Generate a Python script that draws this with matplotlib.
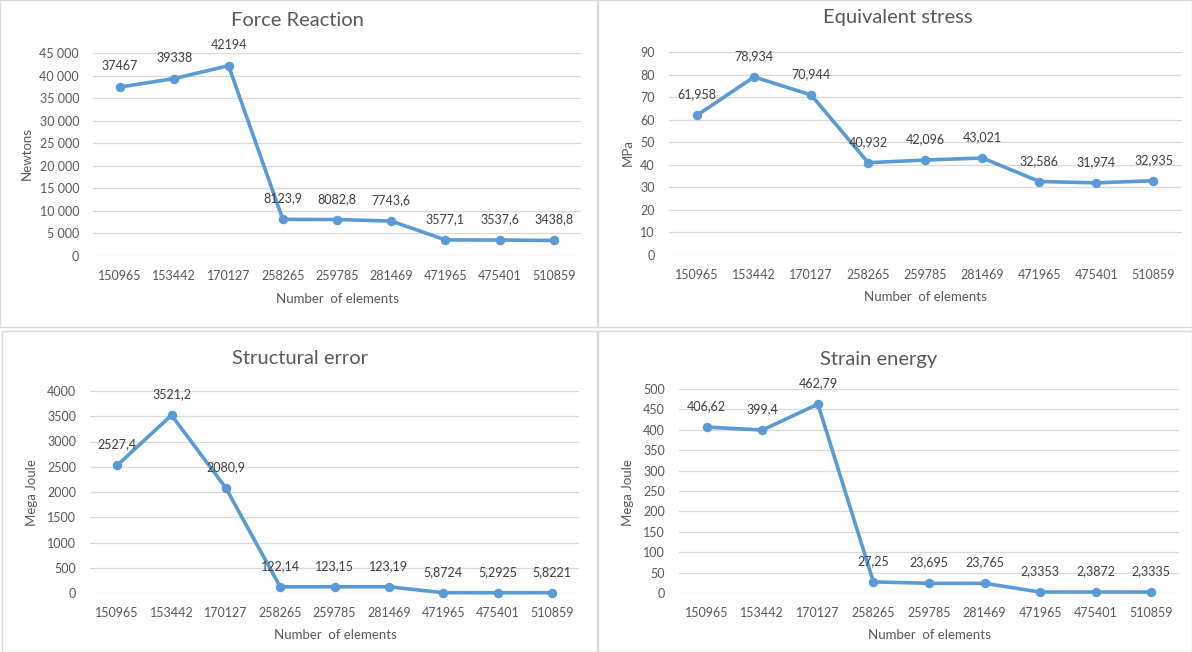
import matplotlib
matplotlib.use("Agg")
import matplotlib.pyplot as plt
from matplotlib.patches import Rectangle
from matplotlib.ticker import FuncFormatter, MultipleLocator

plt.rcParams['font.family'] = ['Lato', 'DejaVu Sans']

# Mesh sizes (category axis shared by all four charts)
elements = ["150965", "153442", "170127", "258265", "259785",
            "281469", "471965", "475401", "510859"]

force_reaction = [37467, 39338, 42194, 8123.9, 8082.8, 7743.6, 3577.1, 3537.6, 3438.8]
equivalent_stress = [61.958, 78.934, 70.944, 40.932, 42.096, 43.021, 32.586, 31.974, 32.935]
structural_error = [2527.4, 3521.2, 2080.9, 122.14, 123.15, 123.19, 5.8724, 5.2925, 5.8221]
strain_energy = [406.62, 399.4, 462.79, 27.25, 23.695, 23.765, 2.3353, 2.3872, 2.3335]

W, H = 1192, 652
LINE = "#5B9BD5"
GRID = "#D9D9D9"
AXTXT = "#595959"
LBLTXT = "#404040"

fig = plt.figure(figsize=(W / 100, H / 100), dpi=100)
fig.patch.set_facecolor("white")


def rect(x0, y_top, x1, y_bot):
    return [x0 / W, 1 - y_bot / H, (x1 - x0) / W, (y_bot - y_top) / H]


def fx(x):
    return x / W


def fy(y):
    return 1 - y / H


def space_thousands(v, _):
    return f"{int(v):,}".replace(",", " ")


def plain(v, _):
    return f"{int(v)}"


def decimal_comma(v):
    return f"{v:g}".replace(".", ",")


# chart borders
for x0, y0, x1, y1 in [(0, 0, 597, 327), (598, 0, 1192, 327),
                       (2, 331, 597, 652), (598, 331, 1192, 652)]:
    fig.patches.append(Rectangle((fx(x0), fy(y1)), fx(x1 - x0), (y1 - y0) / H,
                                 transform=fig.transFigure, fill=False,
                                 edgecolor=GRID, linewidth=1.0))

panels = [
    dict(values=force_reaction, title="Force Reaction", ylabel="Newtons",
         box=(93, 53, 581, 256), ymax=45000, step=5000, fmt=space_thousands,
         title_xy=(297, 20), xlabel_xy=(337, 299), ylabel_xy=(27, 154)),
    dict(values=equivalent_stress, title="Equivalent stress", ylabel="MPa",
         box=(668.5, 52, 1182, 255), ymax=90, step=10, fmt=plain,
         title_xy=(898, 18), xlabel_xy=(925, 297), ylabel_xy=(628, 153)),
    dict(values=structural_error, title="Structural error", ylabel="Mega Joule",
         box=(90, 391, 579, 593), ymax=4000, step=500, fmt=plain,
         title_xy=(300, 358), xlabel_xy=(335, 635), ylabel_xy=(32, 493)),
    dict(values=strain_energy, title="Strain energy", ylabel="Mega Joule",
         box=(679, 389, 1179, 593), ymax=500, step=50, fmt=plain,
         title_xy=(879, 359), xlabel_xy=(929, 635), ylabel_xy=(628, 493)),
]

for p in panels:
    ax = fig.add_axes(rect(*p["box"]))
    xs = range(len(elements))
    ax.plot(xs, p["values"], color=LINE, linewidth=2.6, marker="o",
            markersize=5.8, solid_capstyle="round", solid_joinstyle="round",
            zorder=3, clip_on=False)
    for x, v in zip(xs, p["values"]):
        ax.annotate(decimal_comma(v), (x, v), xytext=(0, 15),
                    textcoords="offset points", ha="center", va="center",
                    fontsize=9, color=LBLTXT, zorder=4)
    ax.set_xlim(-0.5, len(elements) - 0.5)
    ax.set_ylim(0, p["ymax"])
    ax.yaxis.set_major_locator(MultipleLocator(p["step"]))
    ax.yaxis.set_major_formatter(FuncFormatter(p["fmt"]))
    ax.set_xticks(list(xs))
    ax.set_xticklabels(elements)
    ax.grid(axis="y", color=GRID, linewidth=0.9)
    ax.set_axisbelow(True)
    for s in ax.spines.values():
        s.set_visible(False)
    ax.tick_params(axis="both", length=0, labelsize=9, labelcolor=AXTXT)
    ax.tick_params(axis="y", pad=10)
    ax.tick_params(axis="x", pad=10)

    tx, ty = p["title_xy"]
    fig.text(fx(tx), fy(ty), p["title"], ha="center", va="center",
             fontsize=14.5, color=AXTXT)
    lx, ly = p["xlabel_xy"]
    fig.text(fx(lx), fy(ly), "Number  of elements", ha="center", va="center",
             fontsize=9.5, color=AXTXT)
    yx, yy = p["ylabel_xy"]
    fig.text(fx(yx), fy(yy), p["ylabel"], ha="center", va="center",
             rotation=90, fontsize=9.5, color=AXTXT)

fig.savefig("out.png", dpi=100, facecolor="white")
